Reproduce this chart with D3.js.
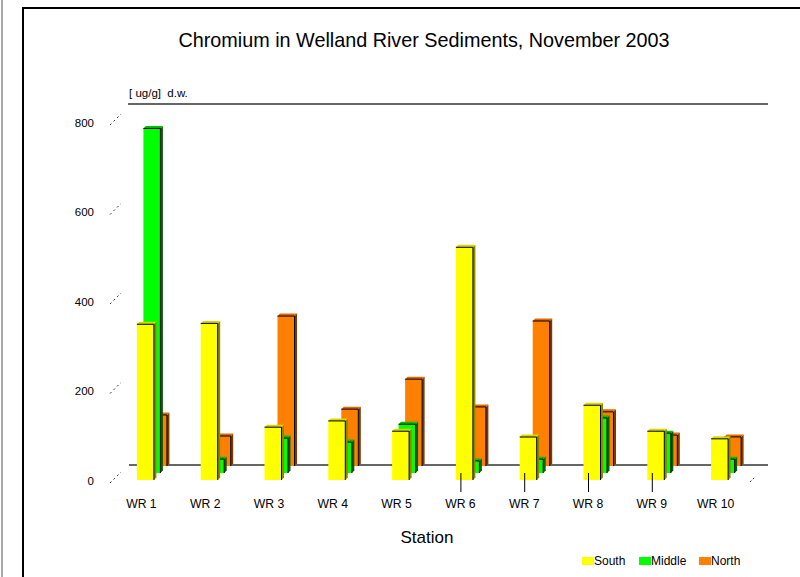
<!DOCTYPE html>
<html>
<head>
<meta charset="utf-8">
<script src="https://cdn.jsdelivr.net/npm/d3@7"></script>
<style>
  html, body { margin: 0; padding: 0; background: #fff; }
  svg { display: block; font-family: "Liberation Sans", Arial, sans-serif; }
</style>
</head>
<body>
<svg id="chart" width="800" height="577"></svg>
<script>
// Chromium concentrations (ug/g dry weight) by station and bank position
const stations = ["WR 1", "WR 2", "WR 3", "WR 4", "WR 5", "WR 6", "WR 7", "WR 8", "WR 9", "WR 10"];
const south  = [348, 350, 118, 132, 109, 520, 96, 167, 109, 92];
const middle = [770, 31, 78, 69, 109, 27, 31, 123, 89, 31];
const north  = [114, 67, 335, 127, 194, 132, 324, 121, 69, 65];
const yTicks = [0, 200, 400, 600, 800];
const tickedStations = ["WR 6", "WR 7", "WR 8", "WR 9"];

const seriesNames = ["South", "Middle", "North"];
const seriesValues = [south, middle, north];
const palette = {
  South:  { face: "#ffff00", top: "#d8d800", side: "#8a8a00" },
  Middle: { face: "#00ff00", top: "#00c000", side: "#006000" },
  North:  { face: "#ff8000", top: "#e06a00", side: "#7a3a00" }
};

const svg = d3.select("#chart");

// Frame
svg.append("line").attr("x1", 2).attr("y1", 0).attr("x2", 2).attr("y2", 577)
  .attr("stroke", "#8c8c8c").attr("stroke-width", 1.5);
svg.append("path").attr("d", "M23,577 L23,8 L800,8")
  .attr("fill", "none").attr("stroke", "#000").attr("stroke-width", 2);

// Title
svg.append("text").attr("x", 424).attr("y", 47).attr("text-anchor", "middle")
  .attr("font-size", 19.8).attr("fill", "#000")
  .text("Chromium in Welland River Sediments, November 2003");

// Unit label and rule
svg.append("text").attr("x", 129).attr("y", 97).attr("font-size", 11.5)
  .attr("fill", "#000").attr("xml:space", "preserve").text("[ ug/g]  d.w.");
svg.append("line").attr("x1", 128).attr("x2", 768).attr("y1", 104).attr("y2", 104)
  .attr("stroke", "#333").attr("stroke-width", 1.5);

// Scales
const x = d3.scaleBand().domain(stations).range([105, 743]).padding(0);
const y = d3.scaleLinear().domain([0, 800]).range([480, 122]);

const barW = 17;
const depthDx = 6.5, depthDy = -7;   // offset per row going back
const sideW = 2.5, sideH = 2.5;      // bevel of each bar

// Value axis labels
svg.append("g").selectAll("text").data(yTicks).join("text")
  .attr("x", 94).attr("y", d => y(d) + 1.5)
  .attr("text-anchor", "end").attr("dominant-baseline", "middle")
  .attr("font-size", 11.5).attr("fill", "#000")
  .text(d => d);

// Depth tick dashes beside the labels
svg.append("g").selectAll("line").data(yTicks).join("line")
  .attr("x1", 110).attr("y1", d => y(d) + 3)
  .attr("x2", 121).attr("y2", d => y(d) - 8)
  .attr("stroke", "#333").attr("stroke-width", 1)
  .attr("stroke-dasharray", "2,3");
svg.append("line").attr("x1", 750).attr("y1", 482).attr("x2", 755).attr("y2", 477)
  .attr("stroke", "#333").attr("stroke-width", 1).attr("stroke-dasharray", "2,2");

// Floor line
svg.append("line").attr("x1", 129).attr("x2", 768).attr("y1", 465).attr("y2", 465)
  .attr("stroke", "#333").attr("stroke-width", 1.5);

// Bars, drawn back row first
const rows = [2, 1, 0];
rows.forEach(r => {
  const name = seriesNames[r];
  const col = palette[name];
  const dx = depthDx * r, dy = depthDy * r;
  const data = stations.map((s, i) => ({ s, v: seriesValues[r][i] }));
  const g = svg.append("g").attr("class", "row-" + name);
  const bars = g.selectAll("g").data(data).join("g");

  bars.each(function(d) {
    const sel = d3.select(this);
    const x0 = x(d.s) + x.bandwidth() / 2 + dx;
    const x1 = x0 + barW;
    const yb = y(0) + dy;
    const yt = y(d.v) + dy;
    // side face
    sel.append("path")
      .attr("d", `M${x1},${yt} L${x1 + sideW},${yt - sideH} L${x1 + sideW},${yb - sideH} L${x1},${yb} Z`)
      .attr("fill", col.side);
    // top face
    sel.append("path")
      .attr("d", `M${x0},${yt} L${x0 + sideW},${yt - sideH} L${x1 + sideW},${yt - sideH} L${x1},${yt} Z`)
      .attr("fill", col.top);
    // front face
    sel.append("rect")
      .attr("x", x0).attr("y", yt).attr("width", barW).attr("height", yb - yt)
      .attr("fill", col.face);
    // edges
    sel.append("path")
      .attr("d", `M${x0},${yt} L${x1},${yt} L${x1},${yb}`)
      .attr("fill", "none").attr("stroke", "#000").attr("stroke-width", 1);
  });
});

// Category ticks
svg.append("g").selectAll("line").data(tickedStations).join("line")
  .attr("x1", d => x(d) + x.bandwidth() / 2 + 5)
  .attr("x2", d => x(d) + x.bandwidth() / 2 + 5)
  .attr("y1", 473).attr("y2", 492)
  .attr("stroke", "#000").attr("stroke-width", 1);

// Category labels
svg.append("g").selectAll("text").data(stations).join("text")
  .attr("x", d => x(d) + x.bandwidth() / 2 + 4.5)
  .attr("y", 508).attr("text-anchor", "middle")
  .attr("font-size", 12.2).attr("fill", "#000")
  .text(d => d);

// Axis title
svg.append("text").attr("x", 427).attr("y", 543).attr("text-anchor", "middle")
  .attr("font-size", 17).attr("fill", "#000").text("Station");

// Legend
const legendX = [582, 639, 699];
const lg = svg.append("g").selectAll("g").data(seriesNames).join("g")
  .attr("transform", (d, i) => `translate(${legendX[i]},557)`);
lg.append("rect").attr("width", 12).attr("height", 8)
  .attr("fill", d => palette[d].face);
lg.append("text").attr("x", 12).attr("y", 8).attr("font-size", 12)
  .attr("fill", "#000").text(d => d);
</script>
</body>
</html>
